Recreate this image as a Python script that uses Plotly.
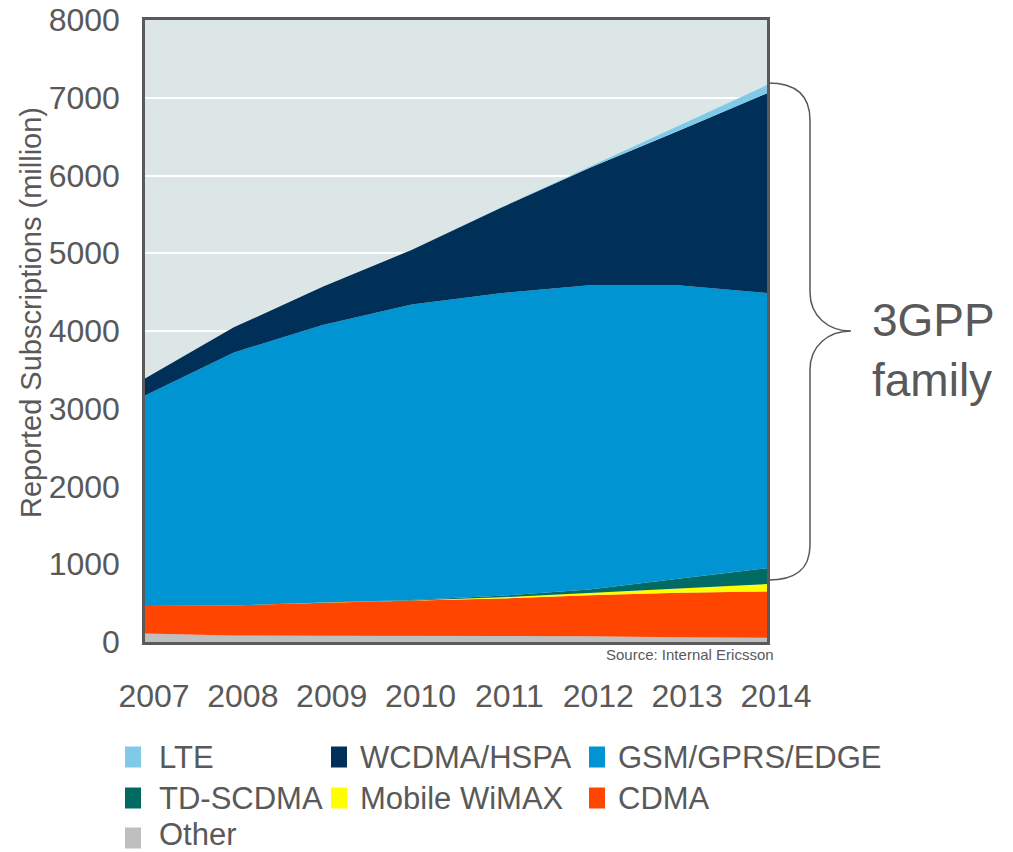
import plotly.graph_objects as go

years = [2007, 2008, 2009, 2010, 2011, 2012, 2013, 2014]
other = [110, 85, 80, 80, 80, 75, 60, 55]
cdma = [365, 385, 425, 450, 480, 525, 575, 595]
wimax = [0, 0, 2, 5, 15, 30, 50, 95]
td_scdma = [0, 0, 0, 5, 20, 45, 130, 205]
gsm = [2695, 3255, 3570, 3800, 3892, 3915, 3775, 3538]
wcdma = [220, 322, 493, 702, 1095, 1507, 1982, 2569]
lte = [0, 0, 0, 0, 2, 15, 70, 107]

series = [
    ("Other", other, "#bfbfbf"),
    ("CDMA", cdma, "#ff4500"),
    ("Mobile WiMAX", wimax, "#ffff00"),
    ("TD-SCDMA", td_scdma, "#006b63"),
    ("GSM/GPRS/EDGE", gsm, "#0094d2"),
    ("WCDMA/HSPA", wcdma, "#003057"),
    ("LTE", lte, "#80c9e9"),
]
legend_rows = [["LTE", "WCDMA/HSPA", "GSM/GPRS/EDGE"],
               ["TD-SCDMA", "Mobile WiMAX", "CDMA"],
               ["Other"]]
colors = {n: c for n, _, c in series}

W, H = 1013, 852
L, R, T, B = 145, 767, 20, 642
TXT = "#595959"
FONT = "Liberation Sans, Arial, sans-serif"

def px(x):
    return (x - L) / (R - L)

def py(y):
    return (B - y) / (B - T)

fig = go.Figure()
for name, vals, col in series:
    fig.add_trace(go.Scatter(
        x=years, y=vals, name=name, stackgroup="one", mode="lines",
        line=dict(width=0, color=col), fillcolor=col, showlegend=False,
        hoverinfo="x+y+name"))

shapes = []
annotations = []
# legend
col_marker = [125, 331, 589]
col_text = [158, 359, 617]
row_y = [757, 798, 835]
for r, row in enumerate(legend_rows):
    for c, name in enumerate(row):
        shapes.append(dict(type="rect", xref="paper", yref="paper",
                           x0=px(col_marker[c]), x1=px(col_marker[c] + 16),
                           y0=py(row_y[r] - 10.5 + (3 if r == 2 else 0)),
                           y1=py(row_y[r] + 10.5 + (3 if r == 2 else 0)),
                           fillcolor=colors[name], line=dict(width=0)))
        annotations.append(dict(text=name, xref="paper", yref="paper",
                                x=px(col_text[c]), y=py(row_y[r]),
                                xanchor="left", yanchor="middle", showarrow=False,
                                borderpad=0,
                                font=dict(size=31, color=TXT, family=FONT)))

# brace
def P(x, y):
    return f"{px(x):.5f},{py(y):.5f}"
path = "M " + P(768, 83)
path += " C " + P(795, 83) + " " + P(810, 95) + " " + P(810, 120)
path += " L " + P(810, 292)
path += " C " + P(810, 316) + " " + P(828, 331) + " " + P(851, 331)
path += " C " + P(828, 331) + " " + P(810, 346) + " " + P(810, 370)
path += " L " + P(810, 545)
path += " C " + P(810, 570) + " " + P(795, 580) + " " + P(768, 580)
shapes.append(dict(type="path", xref="paper", yref="paper", path=path,
                   line=dict(color="#5e5656", width=1.5)))

annotations.append(dict(text="3GPP<br>family", xref="paper", yref="paper",
                        x=px(870), y=py(350), xanchor="left", yanchor="middle",
                        align="left", showarrow=False,
                        font=dict(size=46, color=TXT, family=FONT)))
annotations.append(dict(text="Source: Internal Ericsson", xref="paper", yref="paper",
                        x=px(776), y=py(655), xanchor="right", yanchor="middle",
                        showarrow=False, font=dict(size=15, color=TXT, family=FONT)))
annotations.append(dict(text="Reported Subscriptions (million)", xref="paper", yref="paper",
                        x=px(31), y=py(313), xanchor="center", yanchor="middle",
                        textangle=-90, showarrow=False,
                        font=dict(size=29, color=TXT, family=FONT)))

fig.update_layout(
    width=W, height=H,
    margin=dict(l=L, r=W - R, t=T, b=H - B, pad=0, autoexpand=False),
    paper_bgcolor="white", plot_bgcolor="#dce6e6",
    font=dict(family=FONT, color=TXT),
    shapes=shapes, annotations=annotations, showlegend=False,
)
fig.update_xaxes(range=[2007, 2014], tickvals=years, ticktext=[str(y) for y in years],
                 showgrid=False, zeroline=False, showline=True, mirror=True,
                 linecolor="#5a5a5a", linewidth=2.5, ticks="", automargin=False,
                 tickfont=dict(size=32, color=TXT, family=FONT),
                 ticklabelstandoff=24, ticklabelshift=9)
fig.update_yaxes(range=[0, 8000], dtick=1000, showgrid=True, gridcolor="white",
                 gridwidth=2, zeroline=False, showline=True, mirror=True,
                 linecolor="#5a5a5a", linewidth=2.5, ticks="", automargin=False,
                 tickfont=dict(size=32, color=TXT, family=FONT),
                 ticklabelstandoff=16)

fig.write_html("out.html")
